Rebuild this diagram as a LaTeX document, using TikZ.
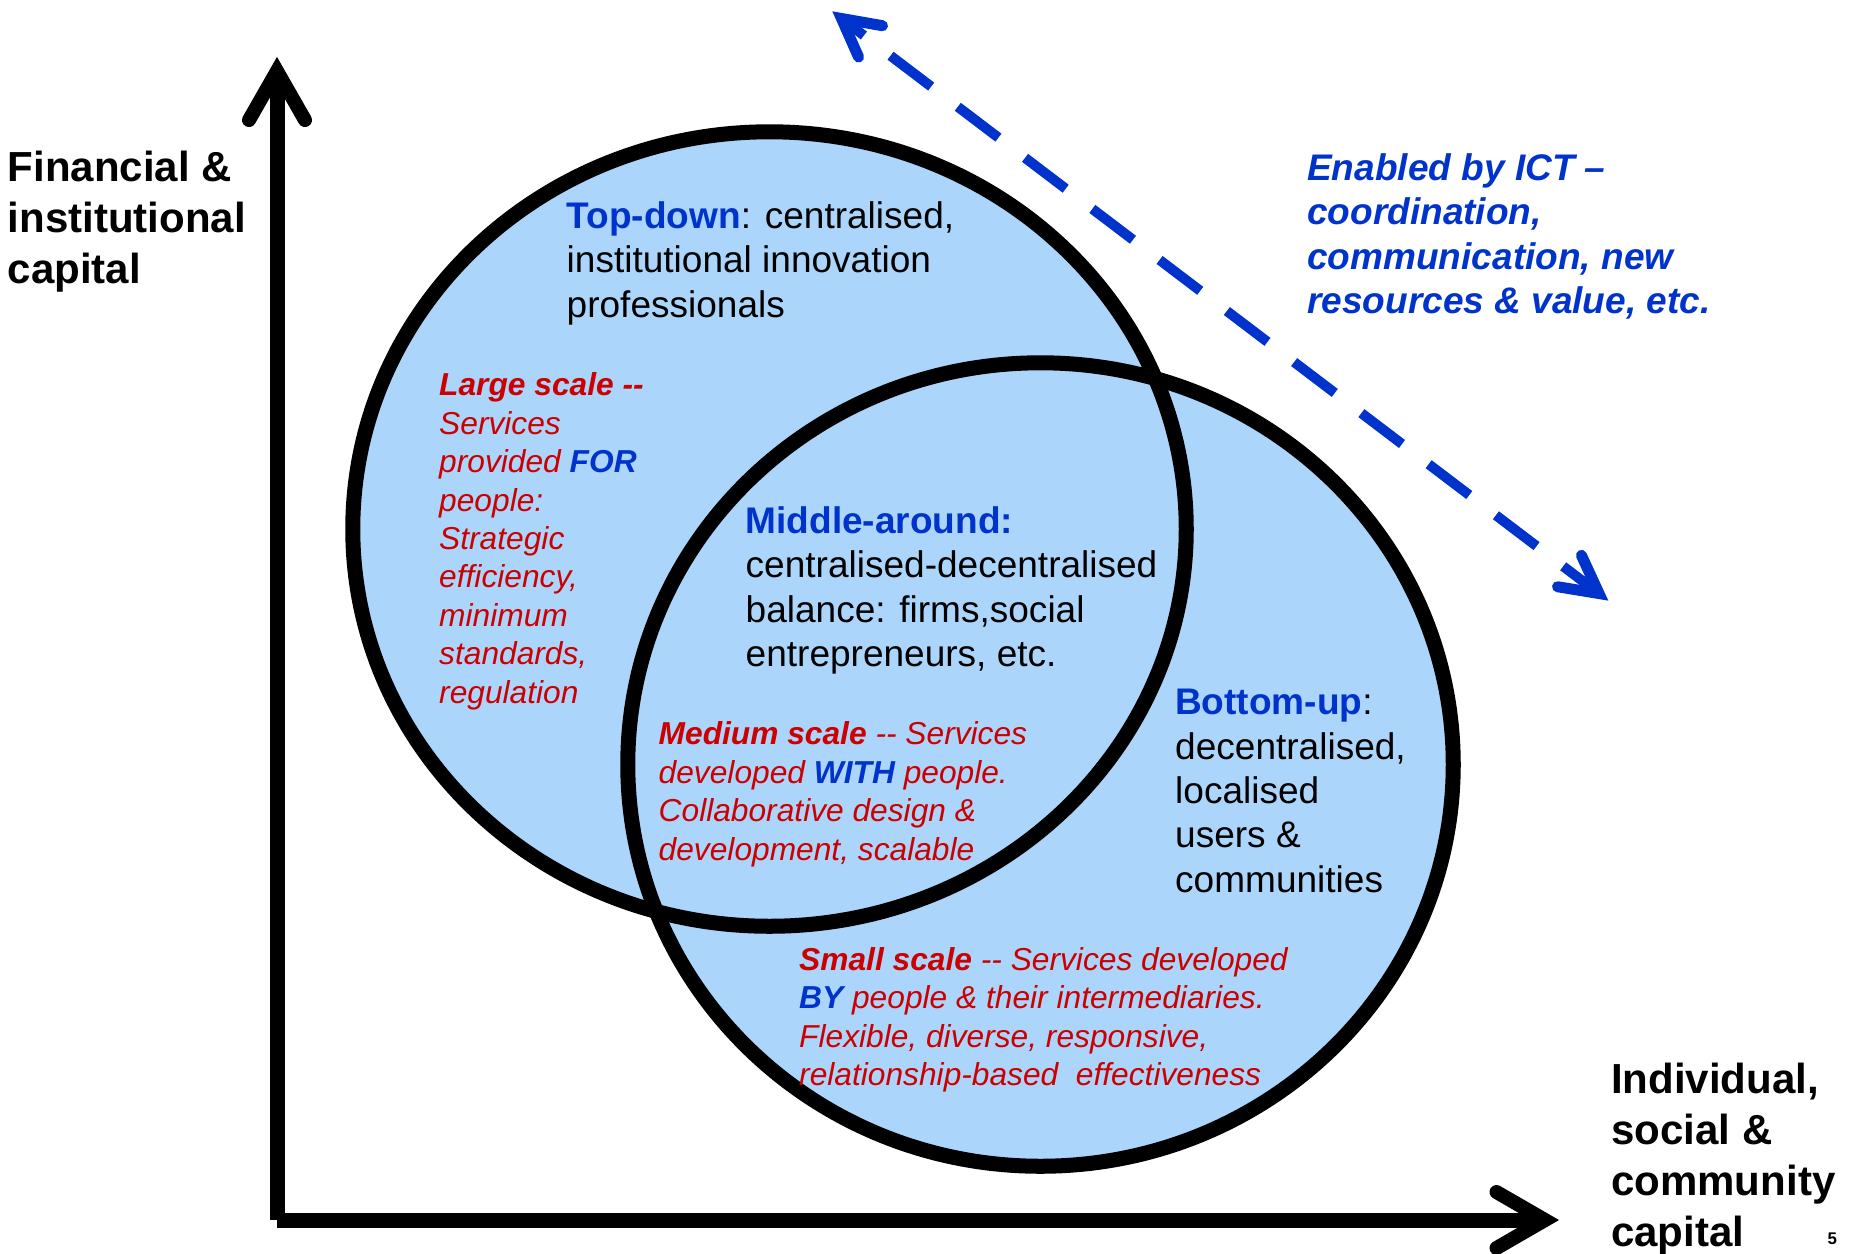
\documentclass[tikz,border=0pt]{standalone}
\usepackage{fontspec}
\setmainfont{Liberation Sans}[Ligatures=TeXOff]
\definecolor{vennfill}{RGB}{171,213,250}
\definecolor{tblue}{RGB}{0,51,204}
\definecolor{tred}{RGB}{204,0,0}
\tikzset{
  body/.style={anchor=north west, inner sep=0pt, align=left, text=black,
    font=\fontsize{10.53pt}{12.63pt}\selectfont},
  scaletext/.style={anchor=north west, inner sep=0pt, align=left, text=tred,
    font=\fontsize{9.02pt}{10.93pt}\selectfont\itshape},
  axislabel/.style={anchor=north west, inner sep=0pt, align=left, text=black,
    font=\fontsize{11.95pt}{14.45pt}\selectfont\bfseries},
  ict/.style={anchor=north west, inner sep=0pt, align=left, text=tblue,
    font=\fontsize{10.53pt}{12.66pt}\selectfont\bfseries\itshape},
  outline/.style={draw=black, line width=0.15cm},
  axis/.style={draw=black, line width=0.15cm, line cap=butt},
  axishead/.style={draw=black, line width=0.14cm, line cap=round, line join=miter},
  ictline/.style={draw=tblue, line width=0.10cm, dash pattern=on 0.51cm off 0.334cm, dash phase=0.229cm},
  icthead/.style={draw=tblue, line width=0.11cm, line cap=round, line join=miter},
}
\begin{document}
\begin{tikzpicture}[x=0.01cm, y=-0.01cm]
\path[use as bounding box] (0,0) rectangle (1858,1253);

% ellipse centres
\coordinate (c1) at (769.5,529);
\coordinate (c2) at (1040.5,764.5);

% fills, then outlines
\fill[vennfill] (c1) ellipse [x radius=4.165cm, y radius=3.97cm];
\fill[vennfill] (c2) ellipse [x radius=4.125cm, y radius=4.015cm];
\path[outline] (c1) ellipse [x radius=4.165cm, y radius=3.97cm];
\path[outline] (c2) ellipse [x radius=4.125cm, y radius=4.015cm];

% axes
\coordinate (O) at (277,1220);
\coordinate (ytip) at (277,71);
\coordinate (yarmL) at (249,120);
\coordinate (yarmR) at (305,120);
\coordinate (xtip) at (1545,1220);
\coordinate (xarmU) at (1496.5,1192);
\coordinate (xarmD) at (1496.5,1248);
\path[axis] (O) -- (ytip);
\path[axis] (O) -- (xtip);
\path[axishead] (yarmL) -- (ytip) -- (yarmR);
\path[axishead] (xarmU) -- (xtip) -- (xarmD);

% ICT double arrow
\coordinate (ictA) at (841.5,18.5);
\coordinate (ictB) at (1599,593.5);
\coordinate (ictA1) at (882.5,25.7);
\coordinate (ictA2) at (858.6,57.1);
\coordinate (ictB1) at (1557.5,586.7);
\coordinate (ictB2) at (1581.4,555.3);
\path[ictline] (ictA) -- (ictB);
\path[icthead] (ictA1) -- (ictA) -- (ictA2);
\path[icthead] (ictB1) -- (ictB) -- (ictB2);

% texts
\node[axislabel] (fin) at (7,150.5) {Financial \&\\institutional\\capital};
\node[axislabel] (ind) at (1610.5,1062.5) {Individual,\\social \&\\community\\capital};
\node[anchor=base west, inner sep=0pt, font=\fontsize{4.8pt}{6pt}\selectfont\bfseries] (pg) at (1827,1244) {5};

\node[body] (top) at (566,201) {{\bfseries\color{tblue}Top-down}: centralised,\\institutional innovation\\professionals};
\node[body] (mid) at (745,506) {{\bfseries\color{tblue}Middle-around:}\\centralised-decentralised\\balance: firms,social\\entrepreneurs, etc.};
\node[body] (bot) at (1174.5,688.5) {{\bfseries\color{tblue}Bottom-up}:\\decentralised,\\localised\\users \&\\communities};

\node[scaletext] (large) at (438.5,372) {{\bfseries Large scale --}\\Services\\provided {\bfseries\color{tblue}FOR}\\people:\\Strategic\\efficiency,\\minimum\\standards,\\regulation};
\node[scaletext] (medium) at (658,721) {{\bfseries Medium scale} -- Services\\developed {\bfseries\color{tblue}WITH} people.\\Collaborative design \&\\development, scalable};
\node[scaletext] (small) at (798.5,946.5) {{\bfseries Small scale} -- Services developed\\{\bfseries\color{tblue}BY} people \& their intermediaries.\\Flexible, diverse, responsive,\\relationship-based\ \ effectiveness};

\node[ict] (ictlabel) at (1306.5,152.5) {Enabled by ICT –\\coordination,\\communication, new\\resources \& value, etc.};
\end{tikzpicture}
\end{document}
